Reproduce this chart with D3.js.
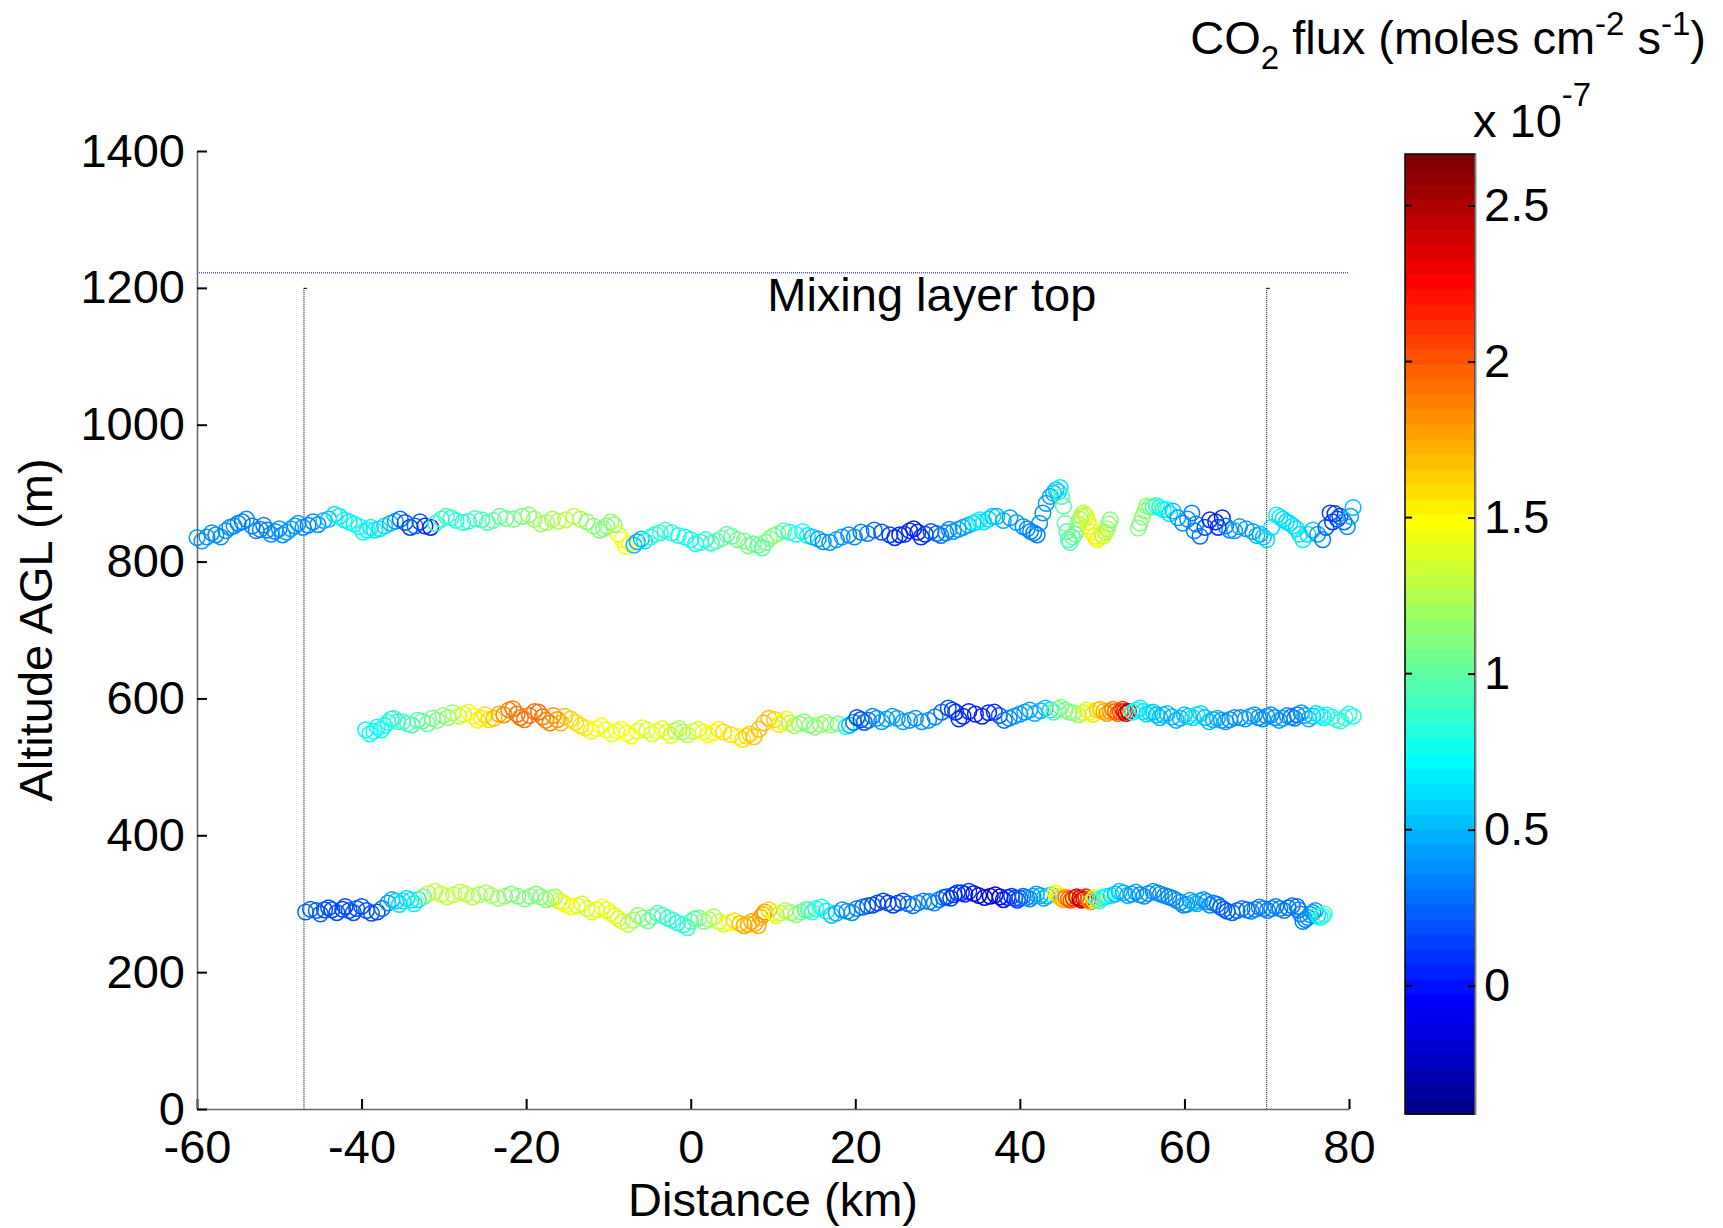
<!DOCTYPE html>
<html>
<head>
<meta charset="utf-8">
<script src="https://cdn.jsdelivr.net/npm/d3@7"></script>
<style>
  html, body { margin: 0; padding: 0; background: #fff; }
  svg { display: block; }
  text { font-family: "Liberation Sans", Arial, Helvetica, sans-serif; fill: #000; }
</style>
</head>
<body>
<svg id="chart" width="1723" height="1228"></svg>
<script>
// ---------------- DATA ----------------
const xTicks = [-60, -40, -20, 0, 20, 40, 60, 80];
const yTicks = [0, 200, 400, 600, 800, 1000, 1200, 1400];
const cbTicks = [0, 0.5, 1, 1.5, 2, 2.5];
const xDomain = [-60, 80];
const yDomain = [0, 1400];
const fluxDomain = [-0.411, 2.665];   // x 10^-7
const mixingLayerTop = 1222;          // m
const boundaryKm = [-47, 70];
const boundaryTop = 1200;

// Upper leg (~850 m)
const legTopKm = [-60,-58.8,-57.7,-56.5,-55.5,-54.5,-53.3,-52.3,-51.5,-50.5,-49.6,-48.6,-47.7,-46.5,-45.3,-44,-42.7,-41.5,-40.3,-39.3,-38.4,-37.2,-35.9,-34.7,-33.5,-32.3,-31,-29.7,-28.5,-27,-25.4,-24,-22.5,-20.5,-19,-17.5,-16.1,-14.2,-12.6,-11.1,-10.2,-9.3,-8.35,-7.4,-6.5,-5.6,-4.3,-3.1,-1.5,0,1.2,2.5,3.8,5,6.5,7.6,8.7,9.6,10.6,12,13.6,14.8,16.1,17.7,19.2,20.7,22.3,24.2,25.4,26.6,27.6,28.5,29.9,31,31.9,33.1,34.3,35.1,36.2,37.2,38.8,40.4,41.3,42.1,42.8,43.7,44.4,44.9,45.3,45.5,45.9,46.4,46.9,47.3,47.7,48.1,48.5,49.1,49.6,50.1,50.6,51,54.4,54.9,55.4,56.2,57,57.8,58.6,59.8,60.9,61.4,61.9,63.1,64.6,65.5,66.7,68.3,69.2,70,71.2,72,72.8,73.6,74.4,75.6,76.8,77.7,78.3,78.9,79.8,80.5];
const legTopAlt = [835,836,839,845,852,858,852,847,846,844,839,848,856,853,854,862,866,858,851,846,846,852,859,857,852,852,856,866,860,859,861,860,863,866,862,857,859,866,858,846,852,854,832,826,829,830,840,846,838,832,828,827,834,837,830,826,820,834,841,843,844,836,829,832,839,843,846,839,839,845,843,840,841,842,844,850,856,861,862,866,864,851,844,839,871,895,905,908,881,856,832,836,846,862,871,866,851,837,835,837,848,861,849,865,881,880,879,876,874,856,871,855,837,861,864,846,851,844,840,832,868,862,856,848,832,846,832,871,870,866,851,879];
const legTopFlux = [0.45,0.4,0.4,0.38,0.36,0.35,0.35,0.33,0.35,0.35,0.4,0.45,0.45,0.35,0.4,0.55,0.65,0.65,0.75,0.7,0.65,0.6,0.45,0.2,0.3,0.1,0.8,0.9,0.8,0.85,0.9,1.0,1.05,1.05,1.2,1.2,1.25,1.3,1.15,1.1,1.1,1.15,1.5,1.5,0.5,0.6,0.85,0.9,0.75,0.75,0.8,0.85,1.05,1.0,1.1,1.05,0.95,1.1,1.15,0.8,0.75,0.55,0.4,0.45,0.4,0.35,0.3,0.15,0.05,0.1,0.05,0.1,0.25,0.35,0.4,0.45,0.55,0.7,0.6,0.55,0.45,0.4,0.35,0.35,0.4,0.45,0.55,0.65,1.0,1.0,0.9,1.0,1.1,1.15,1.25,1.35,1.45,1.55,1.5,1.3,1.2,1.1,1.1,1.15,1.2,0.95,0.75,0.7,0.55,0.4,0.35,0.32,0.3,0.1,0.05,0.4,0.45,0.45,0.5,0.6,0.65,0.6,0.6,0.6,0.65,0.55,0.35,0.15,0.1,0.2,0.4,0.55];
// additional samples of the upper leg (band edges)
const legTopKmB = [-59.4,-58.2,-57.1,-56,-55,-54,-52.8,-51.9,-51,-50,-49.1,-48.1,-47.1,-45.9,-44.6,-43.3,-42.1,-40.9,-39.8,-38.9,-37.8,-36.5,-35.3,-34.1,-32.9,-31.6,-30.3,-29.1,-27.7,-26.2,-24.7,-23.2,-21.5,-19.7,-18.2,-16.8,-15.2,-13.4,-11.8,-10.6,-9.7,-8.8,-7.9,-6.9,-6,-4.9,-3.7,-2.3,-0.7,0.6,1.8,3.1,4.4,5.7,7,8.2,9.1,10.1,11.3,12.8,14.2,15.5,16.9,18.4,19.9,21.5,23.2,24.8,26,27.1,28,29.2,30.4,31.4,32.5,33.7,34.7,35.6,36.7,38,39.6,40.9,41.7,42.4,43.2,44.1,44.7,45.1,45.7,46.1,46.7,47.1,47.5,47.9,48.3,48.8,49.4,49.9,50.4,50.8,54.6,55.2,55.8,56.6,57.4,58.2,59.2,60.4,61.2,62.5,63.8,64.1,65,66.1,67.5,68.8,69.6,70.6,71.6,72.4,73.2,74,75,76.2,77.2,78,78.6,79.4,80.2];
const legTopAltB = [830,842,836,850,856,862,845,853,840,848,843,852,850,858,860,869,861,855,843,850,848,856,862,850,858,850,862,864,857,863,857,866,862,868,855,862,861,862,852,848,858,840,822,824,833,836,842,842,836,826,832,830,840,832,823,824,828,838,845,840,838,833,828,836,836,841,843,835,840,848,836,844,838,847,847,853,858,858,866,860,857,848,842,856,885,900,902,895,844,828,840,855,866,868,858,843,832,840,843,855,856,874,880,882,876,870,864,862,845,850,858,850,852,845,848,838,836,850,865,858,852,840,840,840,850,858,862,858,866];
const legTopFluxB = [0.45,0.4,0.4,0.37,0.35,0.36,0.34,0.35,0.36,0.38,0.42,0.45,0.4,0.38,0.5,0.6,0.7,0.7,0.72,0.68,0.62,0.5,0.3,0.15,0.25,0.05,0.85,0.88,0.82,0.9,0.95,1.0,1.1,1.15,1.2,1.22,1.28,1.25,1.12,1.1,1.15,1.4,1.5,0.55,0.5,0.8,0.85,0.8,0.75,0.78,0.82,0.95,1.0,1.05,1.1,1.0,1.05,1.12,0.95,0.78,0.65,0.45,0.42,0.42,0.38,0.32,0.2,0.1,0.08,0.05,0.08,0.2,0.3,0.38,0.42,0.5,0.65,0.65,0.58,0.5,0.42,0.38,0.35,0.38,0.42,0.5,0.6,0.9,0.95,0.95,1.05,1.1,1.2,1.3,1.4,1.5,1.55,1.4,1.25,1.15,1.1,1.15,1.05,0.85,0.72,0.6,0.45,0.38,0.32,0.2,0.05,0.1,0.3,0.42,0.45,0.48,0.55,0.62,0.65,0.62,0.6,0.62,0.6,0.45,0.25,0.12,0.15,0.3,0.5];

// Middle leg (~570 m)
const legMidKm = [-39.5,-38.5,-37.6,-36.8,-36.1,-35,-33.9,-32.6,-31.4,-30.1,-28.9,-27.6,-26.4,-25.4,-24.5,-23.3,-22.1,-21.1,-20.2,-19,-18,-17.1,-16.2,-15.3,-14,-12.8,-11.5,-10.3,-9,-7.8,-6.5,-5.3,-4.1,-2.9,-1.9,-1,0.3,1.5,2.8,4,5.8,6.8,7.7,8.9,10.2,11.1,12,13.2,14.5,15.8,17,18.9,19.8,20.7,21.6,22.6,23.8,25.1,26.6,28.1,29.7,31.3,32.2,33.1,34.6,36.2,37.5,38.7,40,41.2,42.5,43.7,44.6,45.5,46.5,47.7,48.6,49.4,50.2,51,51.6,52.2,52.7,53.2,54.2,55,55.8,56.6,57.4,58.5,59.5,60.5,61.5,62.5,63.5,64.5,65.5,66.8,68,69,70,71,72,73,73.7,74.6,75.6,76.5,77.3,78.5,79.5,80.5];
const legMidAlt = [554,552,554,565,571,566,561,567,571,575,579,577,574,571,569,577,583,577,569,581,573,564,569,574,565,557,556,554,552,549,552,554,552,551,553,551,552,551,550,551,544,545,544,564,569,566,564,563,561,562,561,559,565,569,568,571,570,571,568,566,573,586,580,574,577,579,575,571,577,583,582,583,584,583,579,579,580,583,581,581,581,581,581,581,583,581,579,576,576,573,571,574,576,572,569,568,569,572,574,572,574,572,571,573,576,575,574,575,576,569,572,574];
const legMidFlux = [0.7,0.7,0.7,0.8,0.85,0.9,0.95,1.0,1.05,1.1,1.2,1.35,1.5,1.55,1.6,1.75,1.85,1.9,1.9,1.9,1.9,1.85,1.8,1.7,1.6,1.55,1.5,1.45,1.45,1.5,1.45,1.35,1.4,1.45,1.3,1.2,1.35,1.45,1.5,1.6,1.55,1.6,1.7,1.7,1.65,1.5,1.3,1.15,1.1,1.15,1.2,0.75,0.35,0.15,0.3,0.4,0.45,0.45,0.4,0.4,0.35,0.2,0.1,0.05,0.05,0.05,0.2,0.35,0.45,0.45,0.5,0.6,1.1,1.05,1.1,1.3,1.5,1.65,1.75,1.8,1.95,2.0,2.2,2.55,0.7,0.65,0.6,0.55,0.55,0.5,0.5,0.55,0.65,0.55,0.5,0.45,0.4,0.4,0.45,0.4,0.4,0.4,0.45,0.35,0.3,0.45,0.55,0.65,0.7,0.9,0.85,0.75];
const legMidKmB = [-39,-38.1,-37.2,-36.4,-35.6,-34.4,-33.2,-32,-30.8,-29.5,-28.2,-27,-25.9,-25,-23.9,-22.7,-21.6,-20.7,-19.6,-18.5,-17.6,-16.7,-15.8,-14.6,-13.4,-12.1,-10.9,-9.6,-8.4,-7.2,-5.9,-4.7,-3.5,-2.4,-1.4,-0.4,0.9,2.1,3.4,4.9,6.3,7.2,8.3,9.5,10.7,11.6,12.6,13.8,15.1,16.4,17.9,19.3,20.2,21.1,22.1,23.2,24.5,25.8,27.3,28.9,30.5,31.8,32.6,33.8,35.4,36.9,38.1,39.3,40.6,41.8,43.1,44.1,45,46,47.1,48.1,48.9,49.8,50.6,51.3,51.9,52.5,52.9,53.7,54.6,55.4,56.2,57,57.9,59,60,61,62,63,64,65,66.1,67.4,68.5,69.5,70.5,71.5,72.5,73.4,74.2,75.1,76,76.9,77.9,79,80];
const legMidAltB = [548,558,560,570,566,563,568,563,568,572,574,580,568,576,571,576,585,572,575,580,568,575,564,570,560,552,560,548,555,545,557,548,556,546,556,547,555,547,555,547,540,548,555,571,562,570,560,566,558,565,563,561,572,565,574,566,574,566,571,568,580,583,570,581,574,580,568,574,580,578,586,580,587,580,576,583,577,584,578,584,578,584,578,580,586,577,580,572,578,568,576,572,578,566,571,566,572,570,576,570,576,568,575,571,579,570,578,572,573,567,577];
const legMidFluxB = [0.7,0.7,0.72,0.82,0.88,0.92,0.98,1.02,1.08,1.15,1.28,1.42,1.52,1.58,1.7,1.8,1.88,1.9,1.9,1.9,1.88,1.82,1.75,1.65,1.58,1.52,1.48,1.45,1.48,1.48,1.4,1.38,1.42,1.4,1.25,1.25,1.4,1.48,1.55,1.58,1.58,1.65,1.7,1.68,1.6,1.4,1.22,1.12,1.12,1.18,1.0,0.55,0.2,0.25,0.35,0.42,0.45,0.42,0.4,0.38,0.3,0.15,0.08,0.05,0.05,0.1,0.28,0.4,0.45,0.48,0.55,0.9,1.08,1.08,1.2,1.4,1.58,1.7,1.78,1.85,1.98,2.1,2.4,0.75,0.68,0.62,0.58,0.55,0.52,0.5,0.52,0.6,0.62,0.52,0.48,0.42,0.4,0.42,0.42,0.4,0.4,0.42,0.4,0.32,0.38,0.5,0.6,0.68,0.8,0.88,0.8];

// Lower leg (~300 m)
const legLowKm = [-46.8,-45.5,-44.5,-43.6,-42.3,-41.5,-40.6,-39.4,-38.1,-36.8,-35.8,-35,-34,-33.1,-31.9,-30.3,-28.8,-27.3,-25.7,-24.2,-22.6,-21,-19.5,-18.2,-17,-16,-15.2,-13.8,-12.6,-11.4,-10.2,-9.2,-8.3,-7,-5.8,-4.6,-3.4,-2.2,-0.9,0,1,2.2,3.4,4.7,6,7,7.8,8.5,9,10,10.9,12.2,13.4,14.3,15.2,16.5,17.7,19,20.2,21.5,22.7,24,25.2,26.4,27.6,29,30.2,31.1,32,32.9,33.8,35,36.4,37.6,38.5,39.4,40,40.8,41.6,42.5,43.3,44.3,44.8,45.3,45.9,46.5,47.3,47.8,48.3,48.9,49.4,50,50.6,51.6,52.6,53.6,54.6,55.6,56.7,57.6,58.6,59.5,60.3,61.1,61.9,62.7,63.5,64.4,65.2,66.4,67.6,68.6,69.6,70.6,71.6,72.6,73.7,74.1,74.4,75,75.6,76.2,76.8];
const legLowAlt = [288,290,291,291,292,290,293,290,288,301,304,304,305,306,315,314,313,314,313,312,311,311,311,310,308,304,299,297,293,291,291,282,274,276,279,281,283,276,269,274,279,277,274,272,271,270,271,280,288,287,286,287,288,291,293,289,286,289,293,297,301,301,301,300,301,303,306,310,313,316,318,312,311,310,309,308,308,309,311,312,311,316,311,306,307,308,308,307,306,306,306,308,311,314,316,314,313,315,316,312,308,302,299,302,304,303,301,295,289,290,291,292,293,293,293,294,296,285,274,280,287,283,282];
const legLowFlux = [0.25,0.25,0.2,0.2,0.15,0.2,0.2,0.2,0.15,0.4,0.55,0.65,0.6,0.65,1.25,1.3,1.3,1.3,1.25,1.2,1.15,1.1,1.1,1.1,1.15,1.3,1.5,1.45,1.35,1.4,1.45,1.4,1.35,1.2,1.1,1.0,0.9,0.85,0.8,0.9,1.05,1.2,1.3,1.5,1.7,1.75,1.75,1.75,1.8,1.5,1.3,1.2,1.1,0.95,0.8,0.65,0.5,0.4,0.35,0.2,0.15,0.15,0.15,0.25,0.35,0.35,0.35,0.2,0.1,0.1,0.1,-0.1,-0.2,-0.1,0.05,0.1,0.2,0.3,0.4,0.45,0.5,1.45,1.6,1.75,1.95,2.1,2.5,2.3,2.0,1.6,1.0,0.8,0.7,0.55,0.5,0.45,0.4,0.4,0.4,0.35,0.35,0.4,0.4,0.5,0.5,0.4,0.35,0.25,0.2,0.25,0.3,0.35,0.35,0.35,0.35,0.3,0.3,0.35,0.35,0.4,0.4,0.6,0.85];
const legLowKmB = [-46.2,-45,-44,-43,-42,-41,-40,-38.8,-37.5,-36.3,-35.4,-34.5,-33.6,-32.5,-31.1,-29.6,-28,-26.5,-24.9,-23.4,-21.8,-20.2,-18.8,-17.6,-16.5,-15.6,-14.5,-13.2,-12,-10.8,-9.7,-8.8,-7.6,-6.4,-5.2,-4,-2.8,-1.6,-0.4,0.5,1.6,2.8,4,5.3,6.5,7.4,8.2,8.8,9.5,10.4,11.5,12.8,13.9,14.8,15.9,17.1,18.4,19.6,20.9,22.1,23.4,24.6,25.8,27,28.3,29.6,30.7,31.6,32.4,33.3,34.4,35.7,37,38,39,39.7,40.4,41.2,42,42.9,43.8,44.6,45,45.6,46.2,46.9,47.5,48,48.6,49.1,49.7,50.3,51.1,52.1,53.1,54.1,55.1,56.2,57.1,58.1,59,59.9,60.7,61.5,62.3,63.1,64,64.8,65.8,67,68.1,69.1,70.1,71.1,72.1,73.1,73.9,74.7,75.3,75.9,76.5,77];
const legLowAltB = [292,285,294,287,296,287,296,286,293,306,299,308,300,310,318,310,317,310,316,308,314,307,314,306,310,302,295,300,288,295,286,278,270,283,275,286,279,272,265,278,274,281,270,275,268,274,268,284,291,283,290,284,291,288,295,283,291,287,295,298,304,298,304,297,304,301,309,308,316,314,315,309,313,306,311,305,311,307,314,308,313,314,308,309,305,310,305,310,303,309,304,310,312,318,312,317,311,318,314,310,305,298,305,300,306,298,299,292,287,293,289,295,290,296,290,297,291,277,284,290,280,285];
const legLowFluxB = [0.25,0.22,0.2,0.18,0.15,0.2,0.2,0.18,0.28,0.5,0.6,0.62,0.65,0.95,1.28,1.3,1.3,1.28,1.22,1.18,1.12,1.1,1.1,1.12,1.22,1.4,1.48,1.4,1.38,1.42,1.42,1.38,1.28,1.15,1.05,0.95,0.88,0.82,0.85,0.95,1.1,1.25,1.4,1.6,1.72,1.75,1.75,1.78,1.65,1.4,1.25,1.15,1.02,0.88,0.72,0.58,0.45,0.38,0.28,0.18,0.15,0.15,0.2,0.3,0.35,0.35,0.28,0.15,0.1,0.1,0.0,-0.15,-0.15,0.0,0.08,0.15,0.25,0.35,0.42,0.48,0.6,1.5,1.7,1.85,2.0,2.3,2.45,2.15,1.8,1.3,0.9,0.75,0.62,0.52,0.48,0.42,0.4,0.4,0.38,0.35,0.38,0.4,0.45,0.5,0.45,0.38,0.3,0.22,0.22,0.28,0.32,0.35,0.35,0.35,0.32,0.3,0.32,0.35,0.4,0.45,0.7,0.85];

// ---------------- LAYOUT ----------------
const FS = 47;
const svg = d3.select("#chart");
const x = d3.scaleLinear().domain(xDomain).range([197, 1349]);
const y = d3.scaleLinear().domain(yDomain).range([1109, 151]);
const cbX0 = 1405, cbX1 = 1475;
const cy = d3.scaleLinear().domain(fluxDomain).range([1114, 154]);
const plainFmt = d => String(d);

// MATLAB jet(64)
function jetMap(m) {
  const n = Math.ceil(m / 4);
  const u = [];
  for (let i = 1; i <= n; i++) u.push(i / n);
  for (let i = 1; i < n; i++) u.push(1);
  for (let i = n; i >= 1; i--) u.push(i / n);
  const g0 = Math.ceil(n / 2) - (m % 4 === 1 ? 1 : 0);
  const J = Array.from({length: m}, () => [0, 0, 0]);
  for (let k = 0; k < u.length; k++) {
    const gi = g0 + k, ri = gi + n, bi = gi - n;
    if (ri >= 0 && ri < m) J[ri][0] = u[k];
    if (gi >= 0 && gi < m) J[gi][1] = u[k];
    if (bi >= 0 && bi < m) J[bi][2] = u[k];
  }
  return J.map(c => d3.rgb(c[0] * 255, c[1] * 255, c[2] * 255).toString());
}
const jet = jetMap(64);
const colorOf = v => {
  let i = Math.floor((v - fluxDomain[0]) / (fluxDomain[1] - fluxDomain[0]) * 64);
  i = Math.max(0, Math.min(63, i));
  return jet[i];
};

// Mixing layer top line
svg.append("line")
  .attr("x1", x(xDomain[0])).attr("x2", x(xDomain[1]))
  .attr("y1", y(mixingLayerTop)).attr("y2", y(mixingLayerTop))
  .attr("stroke", "#0000ff").attr("stroke-width", 1).attr("stroke-dasharray", "1,1");

svg.append("text")
  .attr("x", x(9.3)).attr("y", y(1200) + 23)
  .attr("font-size", FS).text("Mixing layer top");

// Boundary lines
boundaryKm.forEach(k => {
  svg.append("line")
    .attr("x1", x(k)).attr("x2", x(k))
    .attr("y1", y(boundaryTop)).attr("y2", y(0))
    .attr("stroke", "#000").attr("stroke-width", 1).attr("stroke-dasharray", "1,1");
  svg.append("line")
    .attr("x1", x(k)).attr("x2", x(k) + 3)
    .attr("y1", y(boundaryTop) + 0.5).attr("y2", y(boundaryTop) + 0.5)
    .attr("stroke", "#000").attr("stroke-width", 1);
});

// Scatter legs
const legs = [
  [legLowKm, legLowAlt, legLowFlux], [legLowKmB, legLowAltB, legLowFluxB],
  [legMidKm, legMidAlt, legMidFlux], [legMidKmB, legMidAltB, legMidFluxB],
  [legTopKm, legTopAlt, legTopFlux], [legTopKmB, legTopAltB, legTopFluxB]
];
const pts = [];
legs.forEach(([K, A, F], li) => K.forEach((k, i) => pts.push({leg: Math.floor(li / 2), km: k, alt: A[i], flux: F[i]})));
pts.sort((a, b) => a.leg - b.leg || a.km - b.km);
svg.append("g").selectAll("circle").data(pts).join("circle")
  .attr("cx", d => x(d.km)).attr("cy", d => y(d.alt)).attr("r", 7.8)
  .attr("fill", "none").attr("stroke", d => colorOf(d.flux)).attr("stroke-width", 1.5);

// Axes
const xAxis = d3.axisBottom(x).tickValues(xTicks).tickSizeInner(-10).tickSizeOuter(0).tickPadding(21).tickFormat(plainFmt);
const gx = svg.append("g").attr("transform", `translate(0,${y(0)})`).call(xAxis);
gx.select(".domain").attr("stroke", "#666").attr("stroke-width", 1.5);
gx.selectAll(".tick line").attr("stroke", "#000").attr("stroke-width", 2);
gx.selectAll(".tick text").attr("font-size", FS).attr("font-family", "Liberation Sans, Arial, sans-serif").attr("fill", "#000");

const yAxis = d3.axisLeft(y).tickValues(yTicks).tickSizeInner(-10).tickSizeOuter(0).tickPadding(12).tickFormat(plainFmt);
const gy = svg.append("g").attr("transform", `translate(${x(xDomain[0])},0)`).call(yAxis);
gy.select(".domain").attr("stroke", "#666").attr("stroke-width", 1.5);
gy.selectAll(".tick line").attr("stroke", "#000").attr("stroke-width", 2);
gy.selectAll(".tick text").attr("font-size", FS).attr("font-family", "Liberation Sans, Arial, sans-serif").attr("fill", "#000");

svg.append("text").attr("x", (x(xDomain[0]) + x(xDomain[1])) / 2).attr("y", 1216)
  .attr("text-anchor", "middle").attr("font-size", FS).text("Distance (km)");
svg.append("text").attr("transform", `translate(52,${(y(0) + y(1400)) / 2}) rotate(-90)`)
  .attr("text-anchor", "middle").attr("font-size", FS).text("Altitude AGL (m)");

// Colorbar
const cbLevels = d3.range(64);
const dv = (fluxDomain[1] - fluxDomain[0]) / 64;
svg.append("g").selectAll("rect").data(cbLevels).join("rect")
  .attr("x", cbX0).attr("width", cbX1 - cbX0)
  .attr("y", i => cy(fluxDomain[0] + (i + 1) * dv))
  .attr("height", i => cy(fluxDomain[0] + i * dv) - cy(fluxDomain[0] + (i + 1) * dv) + 0.6)
  .attr("fill", i => jet[i]);
svg.append("rect").attr("x", cbX0).attr("y", cy(fluxDomain[1])).attr("width", cbX1 - cbX0)
  .attr("height", cy(fluxDomain[0]) - cy(fluxDomain[1])).attr("fill", "none").attr("stroke", "#000").attr("stroke-width", 1.5);
const cAxis = d3.axisRight(cy).tickValues(cbTicks).tickSizeInner(-7).tickSizeOuter(0).tickPadding(9).tickFormat(plainFmt);
const gc = svg.append("g").attr("transform", `translate(${cbX1},0)`).call(cAxis);
gc.select(".domain").attr("stroke", "#888").attr("stroke-width", 2);
gc.selectAll(".tick line").attr("stroke", "#000").attr("stroke-width", 2);
gc.selectAll(".tick text").attr("font-size", FS).attr("font-family", "Liberation Sans, Arial, sans-serif").attr("fill", "#000");
svg.append("g").selectAll("line").data(cbTicks).join("line")
  .attr("x1", cbX0).attr("x2", cbX0 + 7).attr("y1", d => cy(d)).attr("y2", d => cy(d))
  .attr("stroke", "#000").attr("stroke-width", 2);

// Colorbar title
const t1 = svg.append("text").attr("x", 1706).attr("y", 54).attr("text-anchor", "end").attr("font-size", 47);
t1.append("tspan").text("CO");
t1.append("tspan").attr("font-size", 33).attr("dy", 15).text("2");
t1.append("tspan").attr("dy", -15).text(" flux (moles cm");
t1.append("tspan").attr("font-size", 33).attr("dy", -19).text("-2");
t1.append("tspan").attr("dy", 19).text(" s");
t1.append("tspan").attr("font-size", 33).attr("dy", -19).text("-1");
t1.append("tspan").attr("dy", 19).text(")");

const t2 = svg.append("text").attr("x", 1473).attr("y", 137).attr("font-size", 47);
t2.append("tspan").text("x 10");
t2.append("tspan").attr("font-size", 33).attr("dy", -31).text("-7");
</script>
</body>
</html>
